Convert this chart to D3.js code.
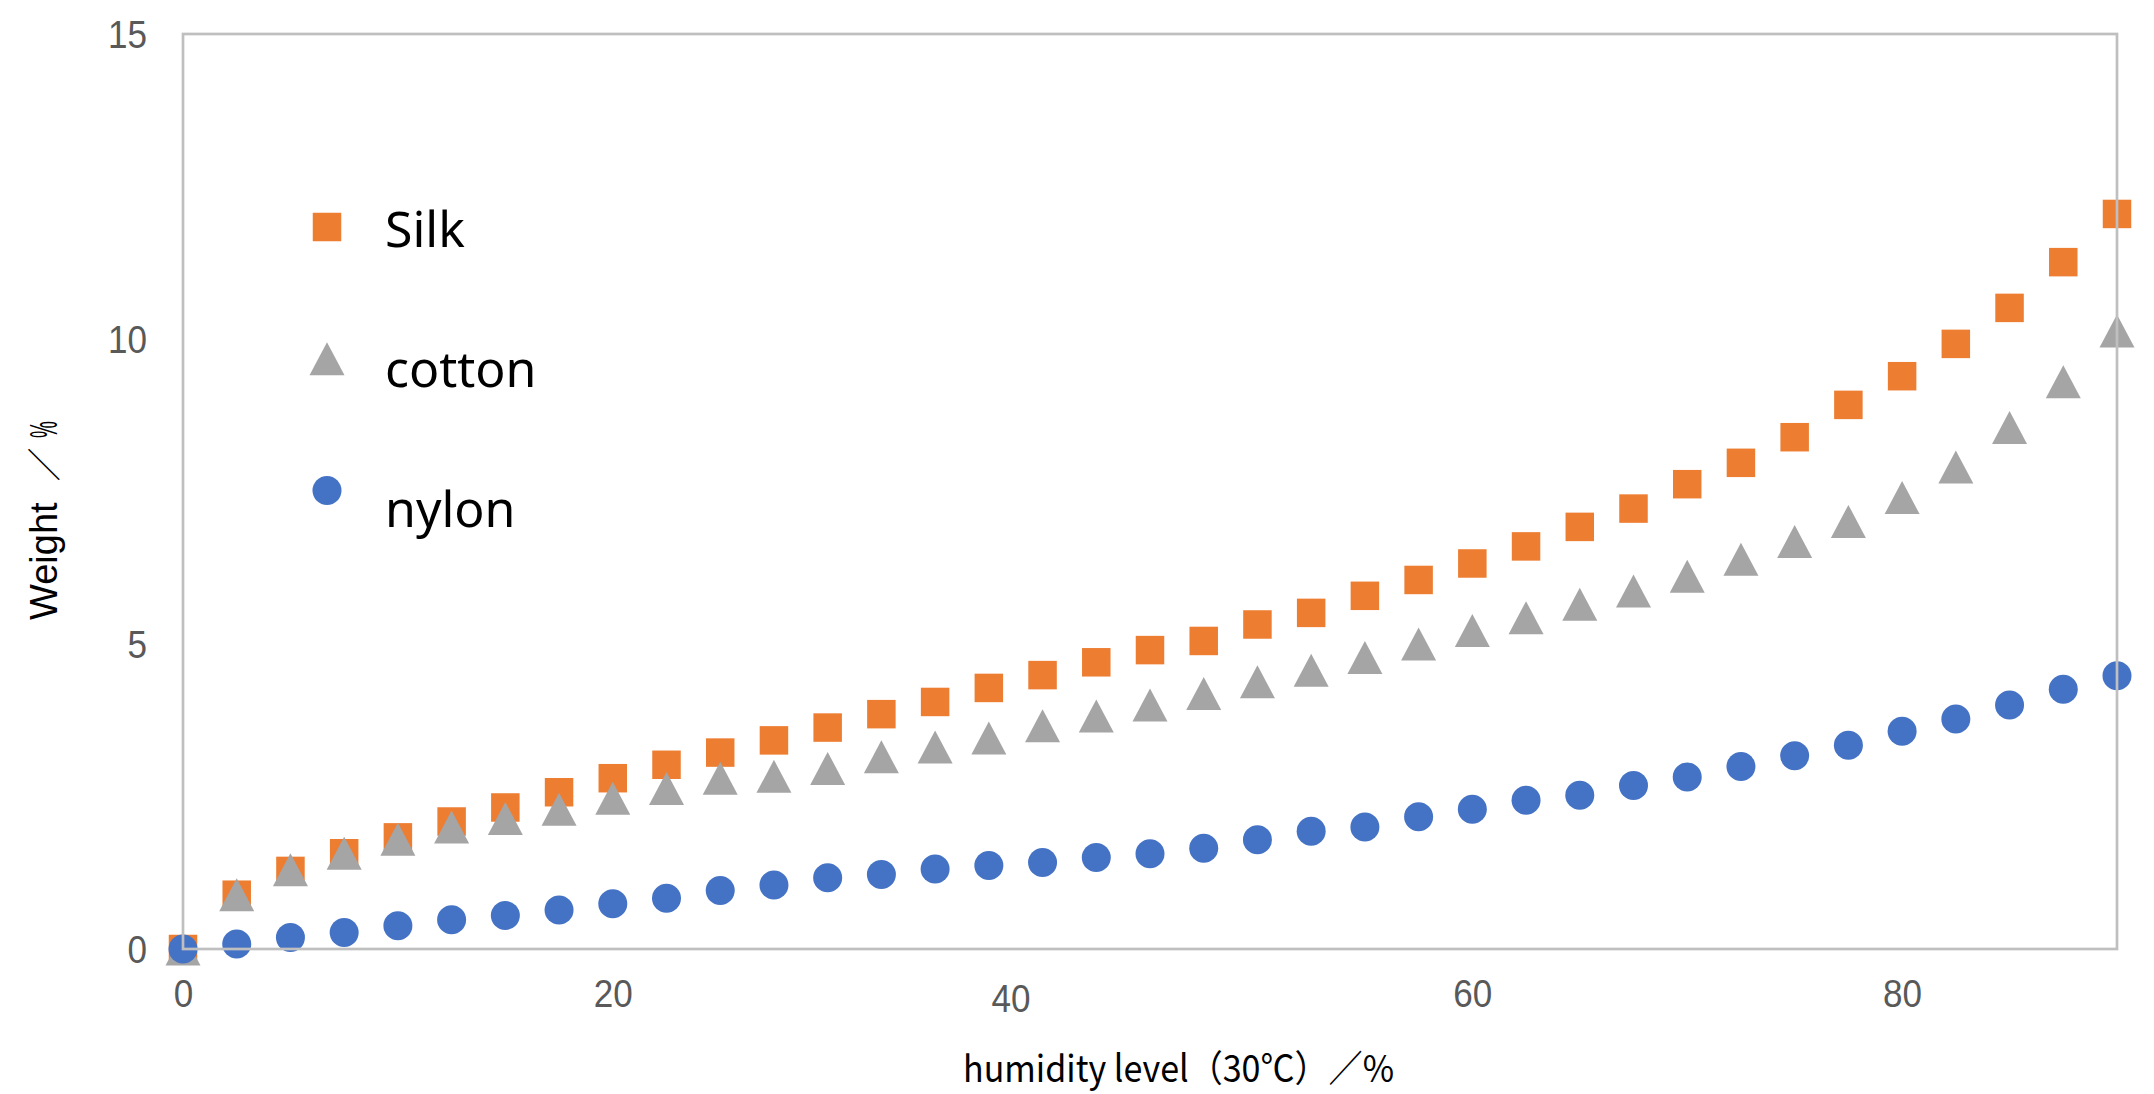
<!DOCTYPE html>
<html><head><meta charset="utf-8">
<script src="https://cdn.jsdelivr.net/npm/d3@7"></script>
<style>html,body{margin:0;padding:0;background:#fff;} svg{display:block;}</style>
</head><body>
<svg id="chart" width="2154" height="1094"></svg>
<script>
// ---- data ----
const humidity = [0,2.5,5,7.5,10,12.5,15,17.5,20,22.5,25,27.5,30,32.5,35,37.5,40,42.5,45,47.5,50,52.5,55,57.5,60,62.5,65,67.5,70,72.5,75,77.5,80,82.5,85,87.5,90];
const silk   = [0,0.89,1.28,1.57,1.83,2.09,2.32,2.57,2.80,3.02,3.22,3.42,3.63,3.85,4.05,4.28,4.49,4.70,4.90,5.05,5.32,5.51,5.79,6.05,6.32,6.60,6.92,7.22,7.62,7.97,8.39,8.92,9.39,9.92,10.51,11.26,12.05];
const cotton = [0,0.89,1.30,1.57,1.80,2.00,2.14,2.29,2.47,2.63,2.80,2.83,2.96,3.15,3.31,3.46,3.66,3.82,4.00,4.19,4.38,4.57,4.78,5.00,5.22,5.43,5.65,5.87,6.11,6.39,6.68,7.01,7.40,7.90,8.55,9.30,10.13];
const nylon  = [0,0.08,0.19,0.27,0.38,0.48,0.55,0.64,0.74,0.83,0.96,1.05,1.17,1.22,1.31,1.37,1.42,1.50,1.56,1.65,1.79,1.93,2.00,2.17,2.29,2.44,2.52,2.68,2.82,2.99,3.17,3.34,3.57,3.77,4.00,4.26,4.48];
const seriesNames = ["Silk", "cotton", "nylon"];
const xTicks = [0, 20, 40, 60, 80];
const yTicks = [0, 5, 10, 15];
const xTitle = "humidity level（30℃）／%";
const yTitle = "Weight";

// ---- styles ----
const colors = ["#ED7D31", "#A5A5A5", "#4472C4"];
const shapes = ["square", "triangle", "circle"];
const tickFont = "'Liberation Sans', Arial, sans-serif";

const m = {left: 183, right: 2117, top: 34, bottom: 949};
const x = d3.scaleLinear().domain([0, 90]).range([m.left, m.right]);
const y = d3.scaleLinear().domain([0, 15]).range([m.bottom, m.top]);
const svg = d3.select("#chart");

function markerPath(shape) {
  if (shape === "square") return "M-14.25,-14.25h28.5v28.5h-28.5Z";
  if (shape === "triangle") return "M0,-16.5L17.5,16.5L-17.5,16.5Z";
  return "M-14.5,0a14.5,14.5 0 1,0 29,0a14.5,14.5 0 1,0 -29,0Z";
}

function narrowDigits(sel) {
  sel.attr("textLength", d => String(d).length * 19.5)
     .attr("lengthAdjust", "spacingAndGlyphs");
}

// y axis labels
const yAxis = svg.append("g")
  .attr("transform", `translate(${m.left},0)`)
  .call(d3.axisLeft(y).tickValues(yTicks).tickSize(0).tickPadding(36));
yAxis.select(".domain").remove();
yAxis.attr("font-size", 38).attr("font-family", tickFont);
yAxis.selectAll("text").attr("fill", "#595959").attr("dy", "0.36em").call(narrowDigits);

// x axis labels
const xAxis = svg.append("g")
  .attr("transform", `translate(0,${m.bottom})`)
  .call(d3.axisBottom(x).tickValues(xTicks).tickSize(0).tickPadding(0));
xAxis.select(".domain").remove();
xAxis.attr("font-size", 38).attr("font-family", tickFont);
xAxis.selectAll("text").attr("fill", "#595959").attr("y", 44).attr("dy", "0.36em").call(narrowDigits);
xAxis.selectAll(".tick").filter(d => d === 40).select("text").attr("dx", -32).attr("y", 49);

// series
const seriesData = [silk, cotton, nylon].map((vals, i) => ({
  name: seriesNames[i], color: colors[i], shape: shapes[i],
  points: humidity.map((h, j) => ({h, v: vals[j]}))
}));

seriesData.forEach(s => {
  svg.append("g").selectAll("path").data(s.points).join("path")
    .attr("d", markerPath(s.shape))
    .attr("transform", d => `translate(${x(d.h)},${y(d.v)})`)
    .attr("fill", s.color);
});

// plot border
svg.append("rect")
  .attr("x", x(0)).attr("y", y(15))
  .attr("width", x(90) - x(0)).attr("height", y(0) - y(15))
  .attr("fill", "none").attr("stroke", "#BFBFBF").attr("stroke-width", 2.7);

// legend
const legend = svg.append("g");
seriesData.forEach((s, i) => {
  legend.append("path").attr("d", markerPath(s.shape))
    .attr("transform", `translate(327,${227 + i * 131.75})`)
    .attr("fill", s.color);
  legend.append("text").attr("x", 385).attr("y", 247 + i * 140)
    .attr("font-family", "'Noto Sans', 'Open Sans', sans-serif")
    .attr("font-size", 50).attr("fill", "#000").text(s.name);
});

// x title
svg.append("text").attr("x", 963).attr("y", 1082)
  .attr("font-family", "'Noto Sans CJK JP', sans-serif")
  .attr("font-size", 37).attr("fill", "#000")
  .attr("textLength", 431).attr("lengthAdjust", "spacingAndGlyphs")
  .text(xTitle);

// y title
const yt = svg.append("text").attr("transform", "translate(57,620) rotate(-90)")
  .attr("font-family", "'Liberation Sans', Arial, sans-serif")
  .attr("font-size", 38).attr("fill", "#000");
yt.append("tspan").text(yTitle);
yt.append("tspan").attr("dx", 21).attr("font-family", "'Noto Sans CJK JP', sans-serif")
  .attr("font-size", 34).text("／");
svg.append("text").attr("transform", `translate(57,${620 - 182}) rotate(-90) scale(0.5,1)`)
  .attr("font-family", "'Liberation Sans', Arial, sans-serif")
  .attr("font-size", 38).attr("fill", "#000").text("%");
</script>
</body></html>
